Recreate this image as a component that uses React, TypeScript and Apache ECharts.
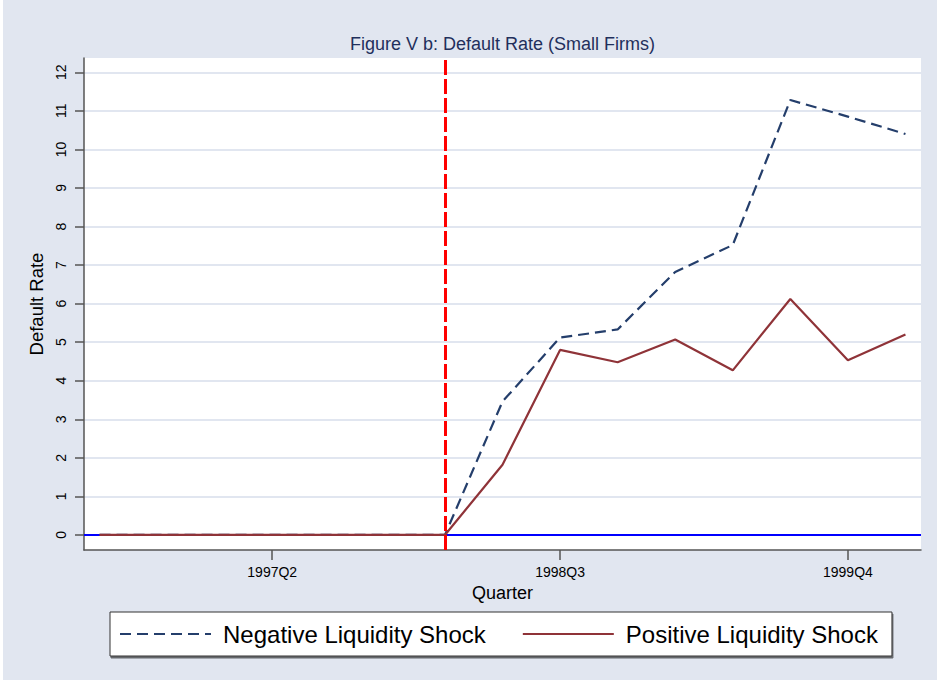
import React, { useEffect, useRef } from 'react';
import * as echarts from 'echarts';

const quarters = [
  '1996Q3', '1996Q4', '1997Q1', '1997Q2', '1997Q3', '1997Q4', '1998Q1', '1998Q2',
  '1998Q3', '1998Q4', '1999Q1', '1999Q2', '1999Q3', '1999Q4', '2000Q1',
];
const negativeShock = [0, 0, 0, 0, 0, 0, 0, 3.46, 5.12, 5.33, 6.82, 7.52, 11.28, 10.85, 10.4];
const positiveShock = [0, 0, 0, 0, 0, 0, 0, 1.82, 4.8, 4.48, 5.07, 4.27, 6.12, 4.53, 5.2];
const tickQuarters = ['1997Q2', '1998Q3', '1999Q4'];
const yTicks = [0, 1, 2, 3, 4, 5, 6, 7, 8, 9, 10, 11, 12];
const shockQuarter = '1998Q1';
const seriesNames = ['Negative Liquidity Shock', 'Positive Liquidity Shock'];
const titleText = 'Figure V b: Default Rate (Small Firms)';

const FONT = '"Liberation Sans", Arial, Helvetica, sans-serif';
const BG = '#e1e6f0';
const AXIS = '#555555';

export default function App() {
  const ref = useRef<HTMLDivElement>(null);

  useEffect(() => {
    if (!ref.current) return;
    const chart = echarts.init(ref.current, null, { renderer: 'svg' });
    const xTickIdx = tickQuarters.map((q) => quarters.indexOf(q));
    const shockIdx = quarters.indexOf(shockQuarter);

    const option: any = {
      animation: false,
      backgroundColor: BG,
      textStyle: { fontFamily: FONT },
      graphic: [
        {
          type: 'text',
          x: 502.5,
          y: 44,
          z: 100,
          style: {
            text: titleText,
            align: 'center',
            verticalAlign: 'middle',
            fontSize: 18,
            fontFamily: FONT,
            fill: '#1f2f5c',
          },
        },
        { type: 'rect', shape: { x: 0, y: 0, width: 3, height: 683 }, style: { fill: '#ffffff' }, z: 100 },
        { type: 'rect', shape: { x: 0, y: 680, width: 937, height: 3 }, style: { fill: '#ffffff' }, z: 100 },
      ],
      grid: {
        left: 84,
        top: 58,
        right: 16,
        bottom: 133,
        show: true,
        backgroundColor: '#ffffff',
        borderWidth: 0,
        containLabel: false,
      },
      legend: {
        left: 110,
        top: 612,
        orient: 'horizontal',
        padding: [10, 14, 10, 9],
        itemWidth: 91,
        itemHeight: 24,
        itemGap: 36,
        backgroundColor: '#ffffff',
        borderColor: '#333333',
        borderWidth: 1,
        shadowColor: 'rgba(0,0,0,0.55)',
        shadowOffsetX: 1,
        shadowOffsetY: 2,
        shadowBlur: 0,
        itemStyle: { opacity: 0 },
        textStyle: { fontSize: 24, fontFamily: FONT, color: '#000', padding: [0, 0, 0, 7] },
        data: seriesNames,
      },
      xAxis: {
        type: 'value',
        min: -0.27,
        max: 14.27,
        name: 'Quarter',
        nameLocation: 'middle',
        nameGap: 27,
        nameTextStyle: { fontSize: 18, color: '#000', fontFamily: FONT },
        axisLine: { show: true, onZero: false, lineStyle: { color: AXIS, width: 1.5 } },
        axisTick: { show: true, length: 10, customValues: xTickIdx, lineStyle: { color: AXIS, width: 1.5 } },
        axisLabel: {
          customValues: xTickIdx,
          margin: 15,
          fontSize: 14,
          color: '#000',
          fontFamily: FONT,
          formatter: (v: number) => quarters[Math.round(v)] ?? '',
        },
        splitLine: { show: false },
      },
      yAxis: {
        type: 'value',
        min: -0.39,
        max: 12.37,
        name: 'Default Rate',
        nameLocation: 'middle',
        nameGap: 30,
        nameTextStyle: { fontSize: 18.5, color: '#000', fontFamily: FONT },
        axisLine: { show: true, onZero: false, lineStyle: { color: AXIS, width: 1.5 } },
        axisTick: { show: true, length: 9, customValues: yTicks, lineStyle: { color: AXIS, width: 1.5 } },
        axisLabel: {
          customValues: yTicks,
          rotate: 90,
          margin: 16,
          fontSize: 14,
          color: '#000',
          fontFamily: FONT,
        },
        splitLine: { show: true, lineStyle: { color: BG, width: 2 } },
      },
      series: [
        {
          name: seriesNames[0],
          type: 'line',
          z: 2,
          symbol: 'none',
          data: quarters.map((_, i) => [i, negativeShock[i]]),
          lineStyle: { color: '#243e6b', width: 2.2, type: [11, 6] },
          itemStyle: { color: '#243e6b' },
          markLine: {
            silent: true,
            symbol: 'none',
            z: 1,
            label: { show: false },
            lineStyle: { color: '#0000ff', width: 2, type: 'solid' },
            data: [{ yAxis: 0 }],
          },
        },
        {
          name: seriesNames[1],
          type: 'line',
          z: 3,
          symbol: 'none',
          data: quarters.map((_, i) => [i, positiveShock[i]]),
          lineStyle: { color: '#8f3338', width: 2.2, type: 'solid' },
          itemStyle: { color: '#8f3338' },
          markLine: {
            silent: true,
            symbol: 'none',
            z: 10,
            label: { show: false },
            lineStyle: { color: '#ff0000', width: 3, type: [15, 4] },
            data: [{ xAxis: shockIdx }],
          },
        },
      ],
    };

    chart.setOption(option);
    return () => chart.dispose();
  }, []);

  return (
    <div
      ref={ref}
      style={{ position: 'absolute', left: 0, top: 0, width: 937, height: 683 }}
    />
  );
}
